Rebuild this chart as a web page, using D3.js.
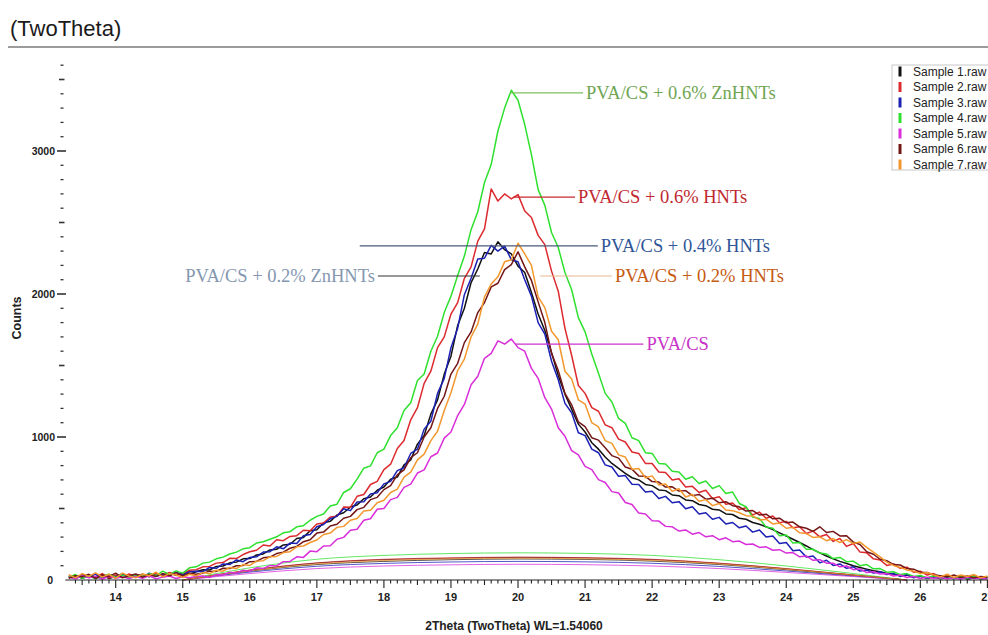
<!DOCTYPE html>
<html><head><meta charset="utf-8">
<script src="https://cdn.jsdelivr.net/npm/d3@7"></script>
<style>body{margin:0;background:#fff;overflow:hidden}</style>
</head><body><svg id="c" width="988" height="635"></svg>
<script>
// ---------- DATA ----------
const thetaStart = 13.3, thetaStep = 0.1;   // sampling grid of the scans (2θ, degrees)
const sampleNames = ["Sample 1.raw","Sample 2.raw","Sample 3.raw","Sample 4.raw","Sample 5.raw","Sample 6.raw","Sample 7.raw"];
const sampleColors = ["#111111","#dc2a2e","#1c20b4","#2fe02f","#d92ed9","#741616","#f2982e"];

const sample1 = [18,32,12,28,20,38,10,26,35,15, 28,40,22,45,30,50,32,48,40,58,
 72,70,95,98,120,125,148,150,175,182, 210,215,245,250,290,298,345,352,400,410,
 455,470,510,525,568,580,628,650,705,720, 805,840,950,1010,1160,1260,1440,1565,1780,1900,
 2080,2175,2290,2280,2365,2310,2280,2195,2150,2010, 1860,1745,1590,1430,1300,1195,1090,1035,960,915,
 860,815,780,745,715,700,668,660,630,625, 595,590,560,555,528,520,495,490,462,458,
 432,425,402,390,372,352,330,308,285,262, 238,212,190,168,148,130,115,100,88,76,
 65,58,45,42,30,34,20,26,12,22, 8,18,12,20,6,16,10,14];
const sample2 = [30,12,40,18,25,45,15,35,20,42, 18,38,26,48,30,52,35,42,68,72,
 92,95,118,122,152,150,178,198,208,245, 238,282,275,305,310,348,345,392,398,440,
 445,510,508,585,598,668,690,772,810,920, 975,1120,1205,1375,1460,1625,1700,1860,1940,2110,
 2190,2370,2455,2735,2650,2700,2665,2695,2580,2535, 2410,2345,2160,2020,1760,1570,1360,1305,1205,1180,
 1085,1065,985,965,895,885,815,815,755,752, 700,708,650,655,612,628,570,582,530,538,
 492,505,455,475,432,448,400,410,365,372, 325,342,302,318,270,290,235,255,195,190,
 148,140,102,112,82,90,55,62,35,45, 18,35,14,28,10,30,16,22];
const sample3 = [25,10,35,20,42,15,30,22,45,18, 35,20,48,25,40,28,55,35,58,62,
 58,88,82,112,108,140,128,158,162,195, 198,232,218,258,255,310,318,372,388,428,
 445,498,485,545,548,602,610,672,690,765, 785,885,915,1055,1110,1305,1410,1625,1760,1995,
 2110,2245,2250,2340,2300,2335,2240,2225,2100,1985, 1800,1720,1530,1400,1235,1170,1030,1010,915,890,
 805,790,725,730,670,668,615,620,570,585, 540,548,498,512,462,470,425,438,392,402,
 365,378,335,350,300,308,255,262,205,210, 160,168,120,138,102,112,82,92,62,70,
 48,58,38,45,25,38,15,28,12,25, 10,22,8,18,12,20,6,15];
const sample4 = [22,38,12,30,8,27,41,18,33,14, 36,24,45,28,62,39,64,48,85,92,
 118,125,148,160,182,195,218,226,258,268, 285,302,330,338,372,380,418,445,462,518,
 530,612,638,705,782,798,890,915,1010,1065, 1185,1240,1395,1440,1600,1705,1870,1985,2130,2265,
 2450,2575,2780,2905,3140,3300,3425,3355,3185,2975, 2730,2620,2430,2325,2150,2030,1835,1735,1580,1445,
 1305,1245,1130,1095,995,975,890,885,815,812, 760,755,705,722,675,692,640,660,605,615,
 535,512,440,430,370,362,310,315,258,262, 215,215,188,182,150,158,128,132,100,108,
 78,80,55,58,38,45,25,32,15,30, 12,26,8,22,14,25,6,18];
const sample5 = [20,8,30,15,25,5,28,12,22,10, 25,12,30,8,20,28,10,22,15,25,
 28,18,38,35,55,48,68,62,85,80, 102,98,128,130,162,158,202,198,238,240,
 285,298,348,355,418,428,495,500,562,578, 648,670,748,770,862,888,992,1035,1150,1228,
 1365,1425,1550,1585,1672,1650,1685,1625,1600,1480, 1410,1275,1195,1065,1005,905,875,795,772,702,
 682,618,608,542,528,468,462,415,412,375, 372,342,350,320,332,302,310,282,295,268,
 272,248,252,228,232,208,212,188,192,162, 168,138,142,118,118,92,98,72,78,52,
 58,42,45,28,35,18,25,10,20,12, 18,8,15,5,20,10,14,6];
const sample6 = [12,30,22,40,10,35,25,48,15,30, 42,20,38,25,45,30,52,28,48,40,
 48,62,60,82,80,100,102,128,130,155, 160,185,195,222,235,268,282,328,335,378,
 390,432,445,492,508,562,578,632,660,735, 770,855,890,1000,1065,1200,1285,1440,1515,1660,
 1735,1870,1940,2050,2075,2170,2205,2295,2190,2095, 1945,1800,1585,1465,1305,1225,1105,1072,995,978,
 925,870,852,790,775,728,725,688,685,650, 652,622,625,590,598,565,572,540,548,520,
 512,482,486,455,460,428,432,400,405,372, 362,340,372,332,340,308,310,265,248,198,
 180,145,135,108,105,80,76,55,52,35, 30,22,35,18,28,15,25,20];
const sample7 = [38,15,45,25,50,20,40,12,48,28, 15,42,30,55,22,45,35,18,40,30,
 52,45,68,62,88,80,108,102,132,135, 162,165,192,198,232,238,262,280,318,328,
 368,375,418,430,482,488,540,558,612,635, 720,755,840,880,975,1040,1185,1310,1465,1545,
 1700,1790,1980,2070,2120,2225,2240,2355,2280,2200, 1980,1905,1740,1680,1460,1405,1260,1230,1100,1070,
 975,955,875,860,775,780,715,728,665,672, 620,638,580,598,550,562,520,535,490,485,
 470,450,448,420,425,392,398,362,368,330, 325,298,302,275,290,262,282,255,265,228,
 195,162,125,102,88,70,62,45,52,35, 22,40,18,35,25,38,15,28];
const samples = [sample1,sample2,sample3,sample4,sample5,sample6,sample7];

// fitted background curves
const bgTheta = [15,16,17,18,19,20,21,22,23,24,25,25.8];
const bg1 = [0,62,108,130,142,147,144,132,108,72,32,0];
const bg2 = [0,70,120,145,155,160,156,145,118,80,36,0];
const bg3 = [0,55,96,116,126,130,127,117,95,63,28,0];
const bg4 = [0,85,145,172,185,190,186,172,142,98,45,0];
const bg5 = [0,45,80,98,106,110,107,98,80,53,24,0];
const bg6 = [0,68,118,142,152,158,154,142,116,78,35,0];
const bg7 = [0,64,112,136,148,152,148,137,112,75,34,0];
const backgrounds = [bg1,bg2,bg3,bg4,bg5,bg6,bg7];

const yTickLabels = [0,1000,2000,3000];
const xTickLabels = [14,15,16,17,18,19,20,21,22,23,24,25,26,27];

// annotations: label, pointer start (theta,counts), pointer end theta, text colour, line colour
const annLabels  = ["PVA/CS + 0.6% ZnHNTs","PVA/CS + 0.6% HNTs","PVA/CS + 0.4% HNTs","PVA/CS + 0.2% ZnHNTs","PVA/CS + 0.2% HNTs","PVA/CS"];
const annCounts  = [3406,2678,2336,2126,2126,1650];
const annTheta0  = [19.88,19.93,17.64,19.43,20.33,19.96];
const annTheta1  = [20.97,20.85,21.19,17.91,21.40,21.87];
const annSide    = ["right","right","right","left","right","right"];
const annText    = ["#6fa653","#c0282e","#2f5597","#8497b0","#c55a11","#c832c8"];
const annLine    = ["#7fbf5f","#c8282e","#4a5a7a","#333333","#e8b890","#cc33cc"];

// ---------- CHART ----------
const svg = d3.select("#c");
const x = d3.scaleLinear().domain([13.25, 27.0]).range([65.4, 987.4]);
const y = d3.scaleLinear().domain([0, 3650]).range([580, 58.05]);

// title
svg.append("text").attr("x",10).attr("y",36).text("(TwoTheta)")
  .attr("font-family","Liberation Sans, Arial, sans-serif").attr("font-size",22).attr("fill","#1a1a1a");
svg.append("line").attr("x1",8).attr("x2",988).attr("y1",47).attr("y2",47)
  .attr("stroke","#7a7a7a").attr("stroke-width",1.6);

const g = svg.append("g");

// backgrounds
const bgLine = d3.line().x((d,i)=>x(bgTheta[i])).y(d=>y(d)).curve(d3.curveMonotoneX);
backgrounds.forEach((b,k)=>{
  g.append("path").datum(b).attr("d",bgLine).attr("fill","none")
    .attr("stroke",sampleColors[k]).attr("stroke-width",1).attr("opacity",0.75);
});

// scans
const scanLine = d3.line().x((d,i)=>x(thetaStart + i*thetaStep)).y(d=>y(d));
samples.forEach((s,k)=>{
  g.append("path").datum(s).attr("d",scanLine).attr("fill","none")
    .attr("stroke",sampleColors[k]).attr("stroke-width",1.5).attr("stroke-linejoin","round");
});

// X axis
const xAxisG = svg.append("g");
xAxisG.append("line").attr("x1",x(13.25)).attr("x2",988).attr("y1",y(0)).attr("y2",y(0))
  .attr("stroke","#222").attr("stroke-width",1.2);
const xMinor = d3.range(134, 271).map(v=>v/10);
xAxisG.selectAll("line.xm").data(xMinor).join("line")
  .attr("x1",d=>x(d)).attr("x2",d=>x(d)).attr("y1",y(0))
  .attr("y2",d=>{const r=Math.round(d*10)%10; return y(0) + (r===0?8:(r===5?5:3.5));})
  .attr("stroke","#222").attr("stroke-width",1.1);
xAxisG.selectAll("text").data(xTickLabels).join("text")
  .attr("x",d=>x(d)).attr("y",601).attr("text-anchor","middle").text(d=>d)
  .attr("font-family","Liberation Sans, Arial, sans-serif").attr("font-size",11).attr("font-weight","bold").attr("fill","#222");

// Y axis (ticks only)
const yMinor = d3.range(1, 37).map(v=>v*100);
svg.selectAll("line.ym").data(yMinor).join("line")
  .attr("x1",d=> d%1000===0 ? 57 : (d%500===0 ? 59 : 60.5))
  .attr("x2",d=> d%1000===0 ? 66 : (d%500===0 ? 64.5 : 63.5))
  .attr("y1",d=>y(d)).attr("y2",d=>y(d))
  .attr("stroke","#333").attr("stroke-width",d=> d%500===0 ? 1.6 : 1.3);
svg.selectAll("text.yl").data(yTickLabels).join("text")
  .attr("x",d=> d===0 ? 53 : 55).attr("y",d=>y(d)+4).attr("text-anchor","end").text(d=>d)
  .attr("font-family","Liberation Sans, Arial, sans-serif").attr("font-size",10.5).attr("font-weight","bold").attr("fill","#222");

// axis labels
svg.append("text").attr("transform","translate(21,318) rotate(-90)").attr("text-anchor","middle")
  .text("Counts").attr("font-family","Liberation Sans, Arial, sans-serif").attr("font-size",12.5).attr("font-weight","bold").attr("fill","#222");
svg.append("text").attr("x",514).attr("y",630).attr("text-anchor","middle")
  .text("2Theta (TwoTheta) WL=1.54060").attr("font-family","Liberation Sans, Arial, sans-serif")
  .attr("font-size",12).attr("font-weight","bold").attr("fill","#222");

// annotations
annLabels.forEach((lab,k)=>{
  const yy = y(annCounts[k]);
  svg.append("line").attr("x1",x(annTheta0[k])).attr("x2",x(annTheta1[k])).attr("y1",yy).attr("y2",yy)
    .attr("stroke",annLine[k]).attr("stroke-width",1.2);
  const right = annSide[k]==="right";
  svg.append("text").attr("x", x(annTheta1[k]) + (right?3:-3)).attr("y", yy+6)
    .attr("text-anchor", right?"start":"end").text(lab)
    .attr("font-family","Liberation Serif, Times New Roman, serif").attr("font-size",18.5).attr("fill",annText[k]);
});

// legend
const lg = svg.append("g");
lg.append("rect").attr("x",892).attr("y",65).attr("width",100).attr("height",105)
  .attr("fill","#fff").attr("stroke","#c8c8c8").attr("stroke-width",1);
sampleNames.forEach((n,k)=>{
  const cy = 71.5 + k*15.5;
  lg.append("rect").attr("x",898.5).attr("y",cy-5).attr("width",3).attr("height",10).attr("fill",sampleColors[k]);
  lg.append("text").attr("x",913).attr("y",cy+4).text(n)
    .attr("font-family","Liberation Sans, Arial, sans-serif").attr("font-size",12).attr("fill","#222");
});
</script>
</body></html>
